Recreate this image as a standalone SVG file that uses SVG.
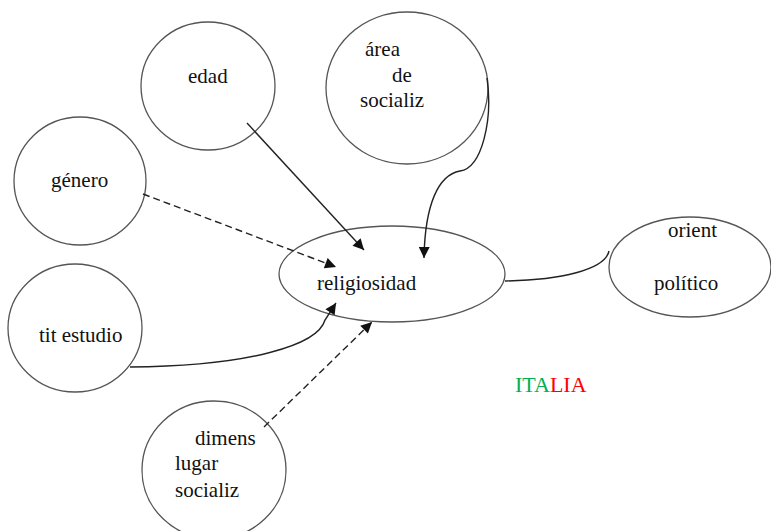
<svg xmlns="http://www.w3.org/2000/svg" width="771" height="531" viewBox="0 0 771 531">
<style>
.n{fill:#fff;stroke:#555;stroke-width:1.3}
.t{font-family:"Liberation Serif","DejaVu Serif",serif;font-size:21px;fill:#111}
.c{fill:none;stroke:#222;stroke-width:1.4}
.d{stroke-dasharray:7 4}
</style>
<defs>
<marker id="a" viewBox="0 0 10 10" refX="10" refY="5" markerWidth="12" markerHeight="11" markerUnits="userSpaceOnUse" orient="auto">
<path d="M0,0 L10,5 L0,10 z" fill="#111"/>
</marker>
</defs>
<rect width="771" height="531" fill="#fff"/>
<g id="edad"><ellipse class="n" cx="208" cy="86" rx="67" ry="64"/><text class="t" x="188" y="83">edad</text></g>
<g id="area"><ellipse class="n" cx="407" cy="88" rx="81" ry="76"/><text class="t" x="365" y="56">área</text><text class="t" x="392" y="82">de</text><text class="t" x="360" y="107">socializ</text></g>
<g id="genero"><ellipse class="n" cx="80" cy="181" rx="66" ry="64"/><text class="t" x="51" y="187">género</text></g>
<g id="tit"><ellipse class="n" cx="75" cy="328" rx="67" ry="64"/><text class="t" x="39" y="342">tit estudio</text></g>
<g id="religiosidad"><ellipse class="n" cx="392" cy="274" rx="113" ry="48"/><text class="t" x="317" y="290">religiosidad</text></g>
<g id="orient"><ellipse class="n" cx="690" cy="267" rx="81" ry="50"/><text class="t" x="668" y="237">orient</text><text class="t" x="654" y="290">político</text></g>
<g id="dimens"><ellipse class="n" cx="214" cy="470" rx="72" ry="69"/><text class="t" x="195" y="445">dimens</text><text class="t" x="175" y="470">lugar</text><text class="t" x="175" y="497">socializ</text></g>
<g id="italia"><text class="t" x="515" y="392" style="font-size:22px"><tspan fill="#00b050">ITA</tspan><tspan fill="#ff0000">LIA</tspan></text></g>
<g id="connectors">
<path class="c" d="M247 123 L364 250" marker-end="url(#a)"/>
<path class="c d" d="M143 194 L336 267" marker-end="url(#a)"/>
<path class="c" d="M487 78 C493 120 482 168 460 171 C438 175 425 205 424 258" marker-end="url(#a)"/>
<path class="c" d="M130 367 C250 366 318 345 325 320 L336 303" marker-end="url(#a)"/>
<path class="c d" d="M264 427 L372 322" marker-end="url(#a)"/>
<path class="c" d="M505 281 C560 280 605 270 609 251"/>
</g>
</svg>
